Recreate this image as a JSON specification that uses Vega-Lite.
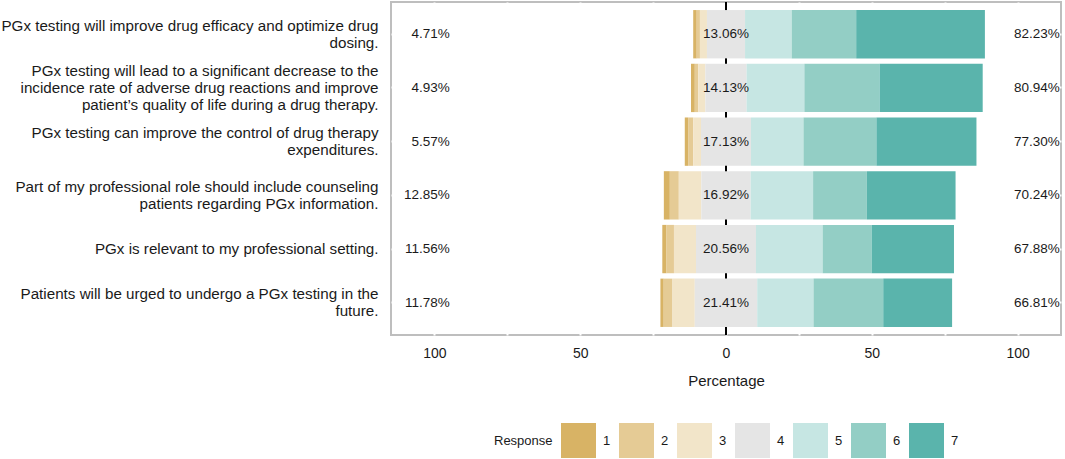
{
  "$schema": "https://vega.github.io/schema/vega-lite/v6.json",
  "autosize": {"type": "none"},
  "width": 670,
  "height": 333,
  "padding": {"left": 391, "top": 2, "right": 4, "bottom": 124},
  "config": {
    "font": "Liberation Sans",
    "view": {"stroke": "#BEBEBE", "strokeWidth": 2, "fill": "white"},
    "text": {"font": "Liberation Sans"}
  },
  "data": {"values": [
    {"q": "PGx testing will improve drug efficacy and optimize drug\ndosing.", "r": 1, "v": -1.2},
    {"q": "PGx testing will improve drug efficacy and optimize drug\ndosing.", "r": 2, "v": -1.1},
    {"q": "PGx testing will improve drug efficacy and optimize drug\ndosing.", "r": 3, "v": -2.41},
    {"q": "PGx testing will improve drug efficacy and optimize drug\ndosing.", "r": 4, "v": -6.53},
    {"q": "PGx testing will improve drug efficacy and optimize drug\ndosing.", "r": 4, "v": 6.53},
    {"q": "PGx testing will improve drug efficacy and optimize drug\ndosing.", "r": 5, "v": 16.0},
    {"q": "PGx testing will improve drug efficacy and optimize drug\ndosing.", "r": 6, "v": 22.1},
    {"q": "PGx testing will improve drug efficacy and optimize drug\ndosing.", "r": 7, "v": 44.13},
    {"q": "PGx testing will lead to a significant decrease to the\nincidence rate of adverse drug reactions and improve\npatient’s quality of life during a drug therapy.", "r": 1, "v": -1.3},
    {"q": "PGx testing will lead to a significant decrease to the\nincidence rate of adverse drug reactions and improve\npatient’s quality of life during a drug therapy.", "r": 2, "v": -1.2},
    {"q": "PGx testing will lead to a significant decrease to the\nincidence rate of adverse drug reactions and improve\npatient’s quality of life during a drug therapy.", "r": 3, "v": -2.43},
    {"q": "PGx testing will lead to a significant decrease to the\nincidence rate of adverse drug reactions and improve\npatient’s quality of life during a drug therapy.", "r": 4, "v": -7.065},
    {"q": "PGx testing will lead to a significant decrease to the\nincidence rate of adverse drug reactions and improve\npatient’s quality of life during a drug therapy.", "r": 4, "v": 7.065},
    {"q": "PGx testing will lead to a significant decrease to the\nincidence rate of adverse drug reactions and improve\npatient’s quality of life during a drug therapy.", "r": 5, "v": 19.8},
    {"q": "PGx testing will lead to a significant decrease to the\nincidence rate of adverse drug reactions and improve\npatient’s quality of life during a drug therapy.", "r": 6, "v": 25.8},
    {"q": "PGx testing will lead to a significant decrease to the\nincidence rate of adverse drug reactions and improve\npatient’s quality of life during a drug therapy.", "r": 7, "v": 35.34},
    {"q": "PGx testing can improve the control of drug therapy\nexpenditures.", "r": 1, "v": -1.15},
    {"q": "PGx testing can improve the control of drug therapy\nexpenditures.", "r": 2, "v": -1.75},
    {"q": "PGx testing can improve the control of drug therapy\nexpenditures.", "r": 3, "v": -2.67},
    {"q": "PGx testing can improve the control of drug therapy\nexpenditures.", "r": 4, "v": -8.565},
    {"q": "PGx testing can improve the control of drug therapy\nexpenditures.", "r": 4, "v": 8.565},
    {"q": "PGx testing can improve the control of drug therapy\nexpenditures.", "r": 5, "v": 18.0},
    {"q": "PGx testing can improve the control of drug therapy\nexpenditures.", "r": 6, "v": 25.0},
    {"q": "PGx testing can improve the control of drug therapy\nexpenditures.", "r": 7, "v": 34.3},
    {"q": "Part of my professional role should include counseling\npatients regarding PGx information.", "r": 1, "v": -2.05},
    {"q": "Part of my professional role should include counseling\npatients regarding PGx information.", "r": 2, "v": -3.08},
    {"q": "Part of my professional role should include counseling\npatients regarding PGx information.", "r": 3, "v": -7.72},
    {"q": "Part of my professional role should include counseling\npatients regarding PGx information.", "r": 4, "v": -8.46},
    {"q": "Part of my professional role should include counseling\npatients regarding PGx information.", "r": 4, "v": 8.46},
    {"q": "Part of my professional role should include counseling\npatients regarding PGx information.", "r": 5, "v": 21.4},
    {"q": "Part of my professional role should include counseling\npatients regarding PGx information.", "r": 6, "v": 18.4},
    {"q": "Part of my professional role should include counseling\npatients regarding PGx information.", "r": 7, "v": 30.44},
    {"q": "PGx is relevant to my professional setting.", "r": 1, "v": -1.45},
    {"q": "PGx is relevant to my professional setting.", "r": 2, "v": -2.55},
    {"q": "PGx is relevant to my professional setting.", "r": 3, "v": -7.56},
    {"q": "PGx is relevant to my professional setting.", "r": 4, "v": -10.28},
    {"q": "PGx is relevant to my professional setting.", "r": 4, "v": 10.28},
    {"q": "PGx is relevant to my professional setting.", "r": 5, "v": 22.85},
    {"q": "PGx is relevant to my professional setting.", "r": 6, "v": 16.8},
    {"q": "PGx is relevant to my professional setting.", "r": 7, "v": 28.23},
    {"q": "Patients will be urged to undergo a PGx testing in the\nfuture.", "r": 1, "v": -1.13},
    {"q": "Patients will be urged to undergo a PGx testing in the\nfuture.", "r": 2, "v": -2.84},
    {"q": "Patients will be urged to undergo a PGx testing in the\nfuture.", "r": 3, "v": -7.81},
    {"q": "Patients will be urged to undergo a PGx testing in the\nfuture.", "r": 4, "v": -10.705},
    {"q": "Patients will be urged to undergo a PGx testing in the\nfuture.", "r": 4, "v": 10.705},
    {"q": "Patients will be urged to undergo a PGx testing in the\nfuture.", "r": 5, "v": 19.3},
    {"q": "Patients will be urged to undergo a PGx testing in the\nfuture.", "r": 6, "v": 23.9},
    {"q": "Patients will be urged to undergo a PGx testing in the\nfuture.", "r": 7, "v": 23.61}
  ]},
  "datasets": {
    "labels": [
      {"q": "PGx testing will improve drug efficacy and optimize drug\ndosing.", "lo": "4.71%", "mid": "13.06%", "hi": "82.23%"},
      {"q": "PGx testing will lead to a significant decrease to the\nincidence rate of adverse drug reactions and improve\npatient’s quality of life during a drug therapy.", "lo": "4.93%", "mid": "14.13%", "hi": "80.94%"},
      {"q": "PGx testing can improve the control of drug therapy\nexpenditures.", "lo": "5.57%", "mid": "17.13%", "hi": "77.30%"},
      {"q": "Part of my professional role should include counseling\npatients regarding PGx information.", "lo": "12.85%", "mid": "16.92%", "hi": "70.24%"},
      {"q": "PGx is relevant to my professional setting.", "lo": "11.56%", "mid": "20.56%", "hi": "67.88%"},
      {"q": "Patients will be urged to undergo a PGx testing in the\nfuture.", "lo": "11.78%", "mid": "21.41%", "hi": "66.81%"}
    ]
  },
  "encoding": {
    "y": {
      "field": "q",
      "type": "nominal",
      "sort": null,
      "scale": {"paddingInner": 0.1, "paddingOuter": 0.15},
      "axis": {
        "title": null,
        "domain": false,
        "ticks": false,
        "grid": true,
        "gridColor": "white",
        "gridWidth": 2,
        "bandPosition": 0.5,
        "labelFontSize": 15.2,
        "labelColor": "#1A1A1A",
        "labelPadding": 13,
        "labelLimit": 0,
        "labelLineHeight": 17,
        "labelOffset": {"expr": "-(length(split(datum.value, '\\n')) - 1) * 8.5"},
        "labelExpr": "split(datum.label, '\\n')"
      }
    }
  },
  "layer": [
    {
      "data": {"values": [{}]},
      "mark": {"type": "rule", "color": "black", "strokeWidth": 2},
      "encoding": {"x": {"datum": 0}, "y": null}
    },
    {
      "transform": [{"filter": "datum.v < 0"}],
      "mark": {"type": "bar"},
      "encoding": {
        "x": {
          "field": "v",
          "type": "quantitative",
          "stack": "zero",
          "scale": {"domain": [-114.85, 114.85], "nice": false, "zero": false},
          "axis": {
            "title": "Percentage",
            "titleFontSize": 15,
            "titleFontWeight": "normal",
            "titleColor": "#1A1A1A",
            "titlePadding": 13,
            "domain": false,
            "ticks": false,
            "grid": true,
            "gridColor": "white",
            "gridWidth": 2,
            "values": [-100, -75, -50, -25, 0, 25, 50, 75, 100],
            "labelExpr": "abs(datum.value) % 50 == 0 ? abs(datum.value) : ''",
            "labelFontSize": 14,
            "labelColor": "#1A1A1A",
            "labelPadding": 11
          }
        },
        "color": {
          "field": "r",
          "type": "ordinal",
          "scale": {"domain": [1, 2, 3, 4, 5, 6, 7], "range": ["#D8B365", "#E5CB95", "#F2E5C9", "#E5E5E5", "#C6E6E3", "#93CEC5", "#5AB4AC"]},
          "legend": {
            "title": "Response",
            "orient": "none",
            "legendX": 103,
            "legendY": 421,
            "direction": "horizontal",
            "titleOrient": "left",
            "titleFontSize": 13,
            "titleFontWeight": "normal",
            "titleColor": "#1A1A1A",
            "titlePadding": 8,
            "symbolType": "square",
            "symbolSize": 1225,
            "symbolStrokeWidth": 0,
            "symbolOpacity": 1,
            "labelFontSize": 13,
            "labelColor": "#1A1A1A",
            "labelOffset": 7,
            "columnPadding": 8
          }
        },
        "order": {"field": "r", "sort": "descending"}
      }
    },
    {
      "transform": [{"filter": "datum.v > 0"}],
      "mark": {"type": "bar"},
      "encoding": {
        "x": {"field": "v", "type": "quantitative", "stack": "zero"},
        "color": {"field": "r", "type": "ordinal"},
        "order": {"field": "r", "sort": "ascending"}
      }
    },
    {
      "data": {"name": "labels"},
      "mark": {"type": "text", "align": "right", "baseline": "middle", "fontSize": 13.5, "color": "#1A1A1A"},
      "encoding": {"x": {"datum": -94.7}, "text": {"field": "lo"}}
    },
    {
      "data": {"name": "labels"},
      "mark": {"type": "text", "align": "center", "baseline": "middle", "fontSize": 13.5, "color": "#1A1A1A"},
      "encoding": {"x": {"datum": 0}, "text": {"field": "mid"}}
    },
    {
      "data": {"name": "labels"},
      "mark": {"type": "text", "align": "left", "baseline": "middle", "fontSize": 13.5, "color": "#1A1A1A"},
      "encoding": {"x": {"datum": 98.7}, "text": {"field": "hi"}}
    }
  ]
}
